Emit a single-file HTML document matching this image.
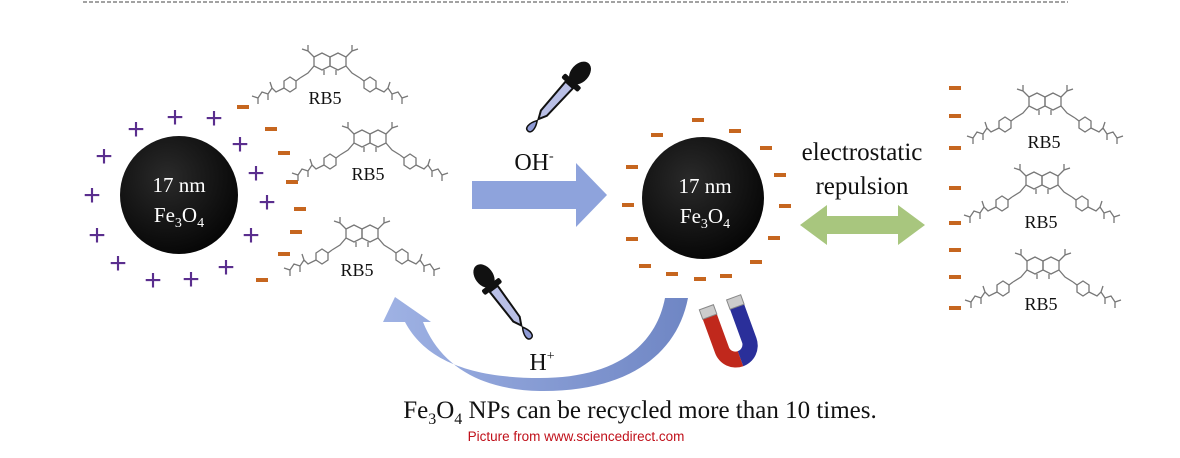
<!DOCTYPE html>
<html><head><meta charset="utf-8"><style>
body{margin:0;background:#fff;}
svg{display:block;font-family:"Liberation Serif",serif;}
</style></head><body>
<svg width="1180" height="458" viewBox="0 0 1180 458" xmlns="http://www.w3.org/2000/svg">
<defs>
<radialGradient id="ball" cx="0.4" cy="0.35" r="0.7"><stop offset="0" stop-color="#2a2a2a"/><stop offset="1" stop-color="#050505"/></radialGradient>
<linearGradient id="curv" x1="0" y1="0" x2="1" y2="0"><stop offset="0" stop-color="#9fb2e4"/><stop offset="1" stop-color="#6f86c4"/></linearGradient>
<g id="mol" fill="none" stroke="#777" stroke-width="1.3">
<polygon points="-16,9 -8,5 0,9 0,18 -8,22 -16,18"/>
<polygon points="0,9 8,5 16,9 16,18 8,22 0,18"/>
<path d="M-16,9 L-22,3 L-28,1 M-22,3 L-22,-3 M16,9 L22,3 L28,1 M22,3 L22,-3 M-16,18 L-22,25 L-30,30 M16,18 L22,25 L30,30 M-6,22 L-6,27 M6,22 L6,27"/>
<polygon points="-46,33 -40,29 -34,33 -34,40 -40,44 -46,40"/>
<polygon points="46,33 40,29 34,33 34,40 40,44 46,40"/>
<path d="M-34,33 L-30,30 M34,33 L30,30 M-46,40 L-54,44 L-58,40 L-62,46 L-68,44 L-72,50 M-58,40 L-60,34 M-62,46 L-62,52 M-72,50 L-78,48 M-72,50 L-72,56 M46,40 L54,44 L58,40 L62,46 L68,44 L72,50 M58,40 L60,34 M62,46 L62,52 M72,50 L78,48 M72,50 L72,56"/>
</g>
<g id="drop">
<ellipse cx="0" cy="0" rx="9" ry="13" fill="#111"/>
<rect x="-11" y="10" width="22" height="6" rx="2" fill="#111"/>
<path d="M-5,16 L5,16 L4,54 L0,62 L-4,54 Z" fill="#b9bfe6" stroke="#111" stroke-width="2"/>
<path d="M0,64 C-5,72 -4,78 0,78 C4,78 5,72 0,64 Z" fill="#8f9bd6" stroke="#111" stroke-width="1.5"/>
</g>
</defs>

<line x1="83" y1="2" x2="1068" y2="2" stroke="#444" stroke-width="1" stroke-dasharray="4,2"/>

<circle cx="179" cy="195" r="59" fill="url(#ball)"/>
<text x="179" y="192" font-size="21" fill="#fff" text-anchor="middle">17 nm</text>
<text x="179" y="222" font-size="21" fill="#fff" text-anchor="middle">Fe<tspan font-size="14" dy="5">3</tspan><tspan dy="-5">O</tspan><tspan font-size="14" dy="5">4</tspan></text>

<g fill="#5a2e8e" font-family="Liberation Sans,sans-serif" font-size="30" text-anchor="middle">
<text x="136" y="139">+</text><text x="175" y="127">+</text><text x="214" y="128">+</text>
<text x="104" y="166">+</text><text x="240" y="154">+</text>
<text x="92" y="205">+</text><text x="256" y="183">+</text><text x="267" y="212">+</text>
<text x="97" y="245">+</text><text x="251" y="245">+</text>
<text x="118" y="273">+</text><text x="153" y="290">+</text><text x="191" y="289">+</text><text x="226" y="277">+</text>
</g>

<g fill="#c6661f">
<rect x="237" y="105" width="12" height="4"/><rect x="265" y="127" width="12" height="4"/>
<rect x="278" y="151" width="12" height="4"/><rect x="286" y="180" width="12" height="4"/>
<rect x="294" y="207" width="12" height="4"/><rect x="290" y="230" width="12" height="4"/>
<rect x="278" y="252" width="12" height="4"/><rect x="256" y="278" width="12" height="4"/>
<rect x="692" y="118" width="12" height="4"/><rect x="651" y="133" width="12" height="4"/>
<rect x="729" y="129" width="12" height="4"/><rect x="760" y="146" width="12" height="4"/>
<rect x="626" y="165" width="12" height="4"/><rect x="774" y="173" width="12" height="4"/>
<rect x="622" y="203" width="12" height="4"/><rect x="779" y="204" width="12" height="4"/>
<rect x="626" y="237" width="12" height="4"/><rect x="768" y="236" width="12" height="4"/>
<rect x="639" y="264" width="12" height="4"/><rect x="750" y="260" width="12" height="4"/>
<rect x="666" y="272" width="12" height="4"/><rect x="694" y="277" width="12" height="4"/>
<rect x="720" y="274" width="12" height="4"/>
<rect x="949" y="86" width="12" height="4"/><rect x="949" y="114" width="12" height="4"/>
<rect x="949" y="146" width="12" height="4"/><rect x="949" y="186" width="12" height="4"/>
<rect x="949" y="221" width="12" height="4"/><rect x="949" y="248" width="12" height="4"/>
<rect x="949" y="275" width="12" height="4"/><rect x="949" y="306" width="12" height="4"/>
</g>

<use href="#mol" x="330" y="48"/>
<use href="#mol" x="370" y="125"/>
<use href="#mol" x="362" y="220"/>
<use href="#mol" x="1045" y="88"/>
<use href="#mol" x="1042" y="167"/>
<use href="#mol" x="1043" y="252"/>
<g font-size="18" fill="#111" text-anchor="middle">
<text x="325" y="104">RB5</text><text x="368" y="180">RB5</text><text x="357" y="276">RB5</text>
<text x="1044" y="148">RB5</text><text x="1041" y="228">RB5</text><text x="1041" y="310">RB5</text>
</g>

<circle cx="703" cy="198" r="61" fill="url(#ball)"/>
<text x="705" y="193" font-size="21" fill="#fff" text-anchor="middle">17 nm</text>
<text x="705" y="223" font-size="21" fill="#fff" text-anchor="middle">Fe<tspan font-size="14" dy="5">3</tspan><tspan dy="-5">O</tspan><tspan font-size="14" dy="5">4</tspan></text>

<path d="M472,181 L576,181 L576,163 L607,195 L576,227 L576,209 L472,209 Z" fill="#8ea3dc"/>
<text x="534" y="170" font-size="24" fill="#111" text-anchor="middle">OH<tspan font-size="14" dy="-10">-</tspan></text>

<path d="M800,225 L827,205 L827,216 L898,216 L898,205 L925,225 L898,245 L898,234 L827,234 L827,245 Z" fill="#a8c67e"/>
<text x="862" y="160" font-size="25" fill="#111" text-anchor="middle">electrostatic</text>
<text x="862" y="194" font-size="25" fill="#111" text-anchor="middle">repulsion</text>

<path d="M665,298 L688,298 C676,360 620,392 540,391 C480,390 440,365 423,322 L431,322 L395,297 L383,322 L405,322 C425,360 470,378 540,378 C610,378 655,350 665,298 Z" fill="url(#curv)"/>

<use href="#drop" transform="translate(580,73) rotate(42)"/>
<use href="#drop" transform="translate(484,276) rotate(-37)"/>
<text x="542" y="370" font-size="24" fill="#111" text-anchor="middle">H<tspan font-size="14" dy="-10">+</tspan></text>

<g transform="translate(733,338) rotate(-20)">
<path d="M-22,-28 L-22,8 A22,22 0 0 0 0,30 L0,14 A7,7 0 0 1 -7,8 L-7,-28 Z" fill="#c0281c"/>
<path d="M22,-28 L22,8 A22,22 0 0 1 0,30 L0,14 A7,7 0 0 0 7,8 L7,-28 Z" fill="#2a2f9a"/>
<rect x="-22" y="-38" width="15" height="10" fill="#ccc" stroke="#888"/>
<rect x="7" y="-38" width="15" height="10" fill="#ccc" stroke="#888"/>
</g>

<text x="640" y="418" font-size="25" fill="#111" text-anchor="middle">Fe<tspan font-size="16" dy="6">3</tspan><tspan dy="-6">O</tspan><tspan font-size="16" dy="6">4</tspan><tspan dy="-6"> NPs can be recycled more than 10 times.</tspan></text>
<text x="576" y="441" font-size="13.5" fill="#c0101a" font-family="Liberation Sans,sans-serif" text-anchor="middle">Picture from www.sciencedirect.com</text>
</svg>
</body></html>
